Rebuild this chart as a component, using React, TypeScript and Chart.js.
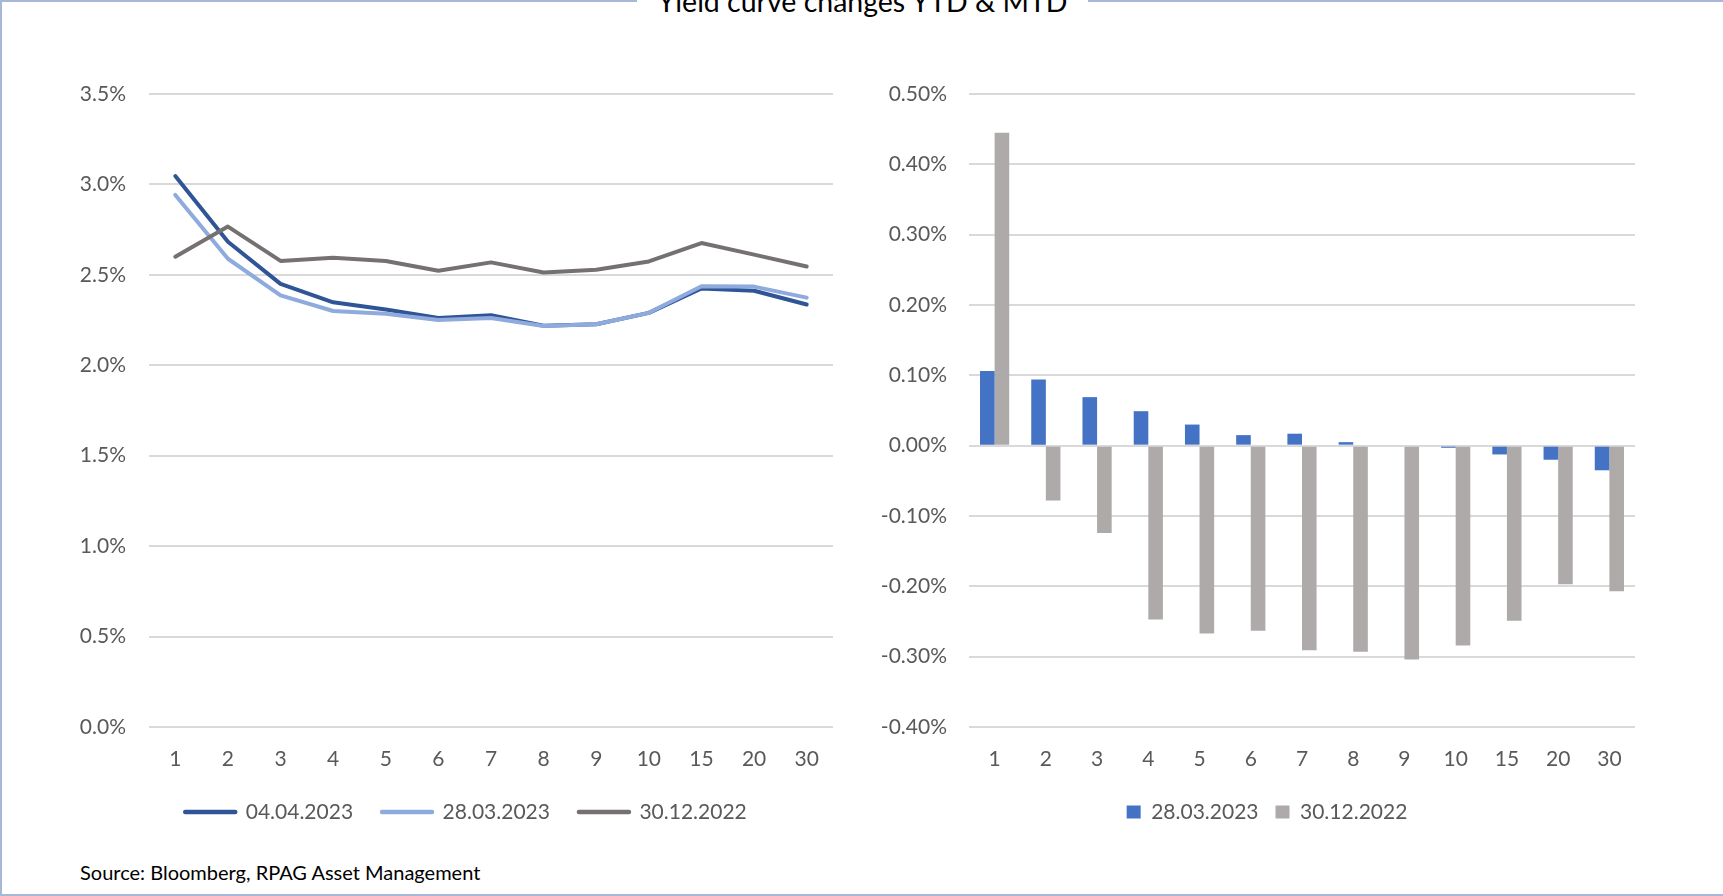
import React, { useEffect, useRef } from "react";
import { Chart, registerables } from "chart.js";
Chart.register(...registerables);

const FONT = "Lato, 'Open Sans', sans-serif";
const TICK_COLOR = "#595959";
const GRID_COLOR = "#D9D9D9";

const titleText = "Yield curve changes YTD & MTD";
const sourceText = "Source: Bloomberg, RPAG Asset Management";

const maturities = ["1", "2", "3", "4", "5", "6", "7", "8", "9", "10", "15", "20", "30"];

const lineLabels = ["04.04.2023", "28.03.2023", "30.12.2022"];
const lineColors = ["#2F5597", "#8FAADC", "#767171"];
const yields0404 = [3.046, 2.683, 2.45, 2.348, 2.308, 2.262, 2.277, 2.219, 2.227, 2.29, 2.425, 2.412, 2.336];
const yields2803 = [2.942, 2.589, 2.387, 2.3, 2.285, 2.25, 2.262, 2.217, 2.227, 2.29, 2.437, 2.435, 2.374];
const yields3012 = [2.6, 2.767, 2.577, 2.594, 2.577, 2.523, 2.569, 2.513, 2.528, 2.574, 2.676, 2.612, 2.546];

const barLabels = ["28.03.2023", "30.12.2022"];
const barColors = ["#4472C4", "#AEAAAA"];
const change2803 = [0.106, 0.094, 0.069, 0.049, 0.03, 0.015, 0.017, 0.005, 0.0, -0.003, -0.0125, -0.02, -0.035];
const change3012 = [0.445, -0.078, -0.124, -0.247, -0.267, -0.263, -0.291, -0.293, -0.304, -0.284, -0.249, -0.197, -0.207];

const leftYTicks = { min: 0, max: 3.5, step: 0.5, decimals: 1 };
const rightYTicks = { min: -0.4, max: 0.5, step: 0.1, decimals: 2 };

const pctFmt = (d: number) => (v: any) => {
  const n = Math.abs(Number(v)) < 1e-9 ? 0 : Number(v);
  return n.toFixed(d) + "%";
};

const legendCenterPlugin = {
  id: "legendCenter",
  afterLayout(chart: any, _args: any, opts: any) {
    const L = chart.legend;
    if (!L || opts == null || opts.center == null) return;
    const dx = opts.center - (L.left + L.right) / 2;
    L.left += dx;
    L.right += dx;
  },
};

function baseScales(yCfg: any, yWidth: number, yPad: number, xHeight: number) {
  return {
    x: {
      offset: true,
      grid: { display: false, drawTicks: false },
      border: { display: false },
      ticks: {
        color: TICK_COLOR,
        font: { family: FONT, size: 21 },
        padding: 20,
        maxRotation: 0,
        autoSkip: false,
      },
      afterFit: (s: any) => {
        s.height = xHeight;
      },
    },
    y: {
      min: yCfg.min,
      max: yCfg.max,
      grid: { color: GRID_COLOR, lineWidth: 2, drawTicks: false },
      border: { display: false },
      ticks: {
        stepSize: yCfg.step,
        color: TICK_COLOR,
        font: { family: FONT, size: 21 },
        padding: yPad,
        callback: pctFmt(yCfg.decimals),
      },
      afterFit: (s: any) => {
        s.width = yWidth;
      },
    },
  };
}

export default function App() {
  const leftRef = useRef<HTMLCanvasElement>(null);
  const rightRef = useRef<HTMLCanvasElement>(null);

  useEffect(() => {
    const lineSeries = [yields0404, yields2803, yields3012];
    const left = new Chart(leftRef.current!, {
      type: "line",
      data: {
        labels: maturities,
        datasets: lineSeries.map((d, i) => ({
          label: lineLabels[i],
          data: d,
          borderColor: lineColors[i],
          backgroundColor: lineColors[i],
          borderWidth: 4,
          borderJoinStyle: "round",
          borderCapStyle: "round",
          pointRadius: 0,
          pointHoverRadius: 0,
          tension: 0,
          order: 3 - i,
        })),
      } as any,
      options: {
        responsive: false,
        animation: false,
        layout: { padding: { left: 0, right: 27, top: 94, bottom: 27.5 } },
        scales: baseScales(leftYTicks, 149, 23, 45.5) as any,
        plugins: {
          tooltip: { enabled: false },
          legend: {
            position: "bottom",
            labels: {
              usePointStyle: true,
              pointStyleWidth: 50,
              padding: 29,
              color: TICK_COLOR,
              font: { family: FONT, size: 21 },
              generateLabels: (chart: any) =>
                chart.data.datasets.map((ds: any, i: number) => ({
                  text: ds.label,
                  fillStyle: ds.borderColor,
                  strokeStyle: ds.borderColor,
                  lineWidth: 4.5,
                  lineCap: "round",
                  pointStyle: "line",
                  hidden: false,
                  datasetIndex: i,
                  fontColor: TICK_COLOR,
                })),
            },
          },
          legendCenter: { center: 466 },
        } as any,
      },
      plugins: [legendCenterPlugin as any],
    });

    const barSeries = [change2803, change3012];
    const right = new Chart(rightRef.current!, {
      type: "bar",
      data: {
        labels: maturities,
        datasets: barSeries.map((d, i) => ({
          label: barLabels[i],
          data: d,
          backgroundColor: barColors[i],
          borderWidth: 0,
          categoryPercentage: 0.57,
          barPercentage: 1.0,
        })),
      },
      options: {
        responsive: false,
        animation: false,
        layout: { padding: { left: 0, right: 45, top: 94, bottom: 27.5 } },
        scales: baseScales(rightYTicks, 109, 22, 57.5) as any,
        plugins: {
          tooltip: { enabled: false },
          legend: {
            position: "bottom",
            labels: {
              boxWidth: 14,
              boxHeight: 13,
              padding: 17,
              color: TICK_COLOR,
              font: { family: FONT, size: 21 },
              generateLabels: (chart: any) =>
                chart.data.datasets.map((ds: any, i: number) => ({
                  text: ds.label,
                  fillStyle: ds.backgroundColor,
                  strokeStyle: ds.backgroundColor,
                  lineWidth: 0,
                  hidden: false,
                  datasetIndex: i,
                  fontColor: TICK_COLOR,
                })),
            },
          },
          legendCenter: { center: 407 },
        } as any,
      },
      plugins: [legendCenterPlugin as any],
    });

    return () => {
      left.destroy();
      right.destroy();
    };
  }, []);

  return (
    <div
      style={{
        position: "absolute",
        left: 0,
        top: 0,
        width: 1723,
        height: 896,
        overflow: "hidden",
        background: "#ffffff",
        fontFamily: FONT,
      }}
    >
      <div
        style={{
          position: "absolute",
          left: 0,
          top: 0,
          width: 1740,
          height: 896,
          boxSizing: "border-box",
          border: "2px solid #A7B6D9",
        }}
      />
      <div
        style={{
          position: "absolute",
          left: 637,
          width: 451,
          top: -13,
          height: 29,
          lineHeight: "28.5px",
          fontSize: 28.5,
          textAlign: "center",
          background: "#ffffff",
          color: "#000000",
          whiteSpace: "nowrap",
        }}
      >
        {titleText}
      </div>
      <canvas ref={leftRef} width={860} height={860} style={{ position: "absolute", left: 0, top: 0 }} />
      <canvas ref={rightRef} width={820} height={860} style={{ position: "absolute", left: 860, top: 0 }} />
      <div
        style={{
          position: "absolute",
          left: 80,
          top: 860,
          fontSize: 20,
          lineHeight: "24px",
          color: "#000000",
          whiteSpace: "nowrap",
        }}
      >
        {sourceText}
      </div>
    </div>
  );
}
